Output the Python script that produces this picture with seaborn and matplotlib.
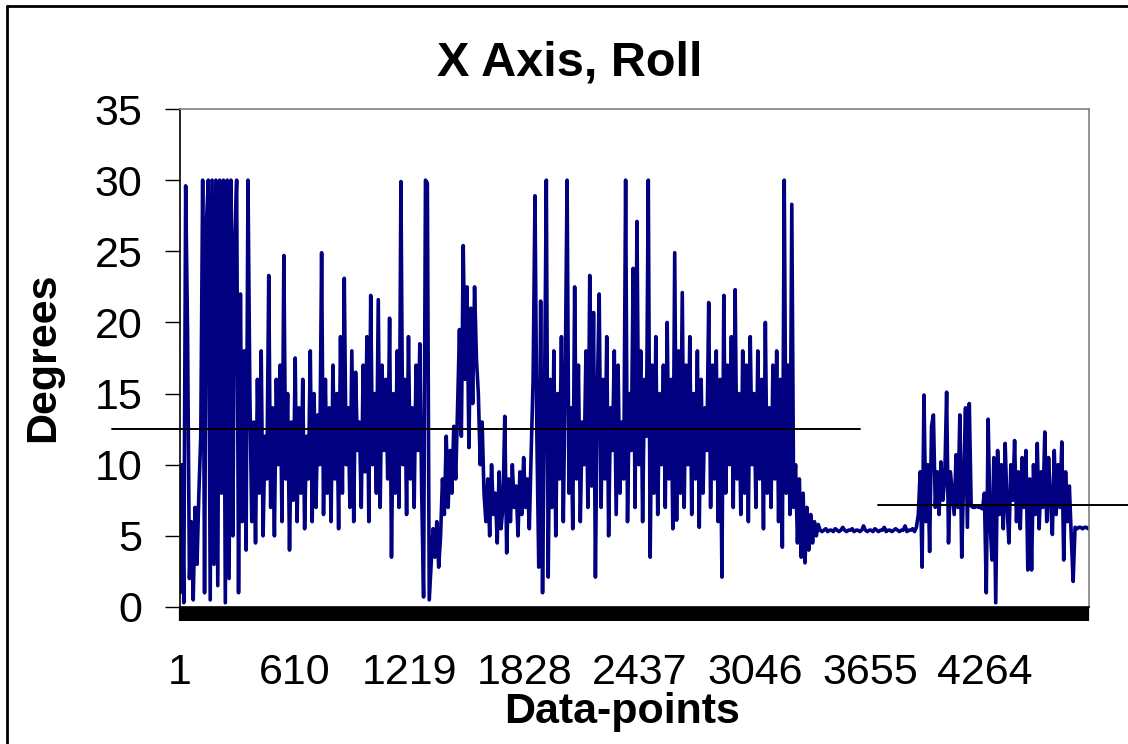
import numpy as np, pandas as pd
import seaborn as sns
import matplotlib.pyplot as plt
from matplotlib.lines import Line2D

sns.set_style("white")
plt.rcParams['font.family'] = ['Liberation Sans', 'DejaVu Sans']
plt.rcParams['text.color'] = 'black'

# roll readings, one value every 10 data-points
roll_start = [1, 10, 0.3, 29.6, 19.3, 2, 6, 0.5, 7, 3, 8]
roll_burst = [12, 30, 1, 27, 30, 0.5, 30, 3, 30, 1.5, 30, 8, 30, 0.3, 30, 2,
              30, 5, 26, 30, 1, 22, 6, 18, 4, 30]
roll_run1 = [15, 6, 13, 4.5, 16, 8, 18, 5, 12, 9, 23.3,
             7, 14, 5, 16, 10, 17, 6, 24.7, 9, 15, 4, 13, 7.5, 17.5, 6, 14,
             8, 16, 5.5, 12, 9, 18, 6, 15, 7, 13.5, 10, 24.9, 6.5, 16, 8, 14,
             6, 17, 9, 15, 5.5, 19, 8, 23.1, 10, 14, 7, 18, 6, 16.5, 11, 13,
             7, 17, 9.5, 19, 6, 21.9, 10, 15, 8, 21.6, 7, 17, 11, 16, 9, 20.3,
             3.5, 15, 8, 18, 7, 29.9, 10, 16, 6.5, 19, 9, 14, 7, 17, 11, 18.5, 8]
roll_dip = [0.7, 30, 29.8, 0.5, 3, 5.5, 3.5, 6, 2.8, 5,
            9, 6.5, 12, 7, 11, 8, 12.7, 9]
roll_hump = [14, 19.5, 12, 25.4, 16, 22.5, 11.2, 21, 14.3, 22.5, 17.4,
             15, 10, 13, 8]
roll_low = [6, 9, 5, 10, 6.5, 8, 4.5, 9.5, 5.5, 7, 13.4, 3.8, 9, 6, 10, 7,
            8.5, 5, 9.5, 6.5, 10.5, 7, 9, 5.5, 11, 16, 28.9, 12]
roll_run2 = [2.8, 21.5, 1.0, 14, 30, 2.1, 16, 7, 18, 5, 15, 9, 19,
             6, 16, 30, 8, 14, 5.5, 22.5, 9, 17, 6, 13, 10, 18, 7, 23.3, 8.5,
             20.7, 2.1, 15, 22.0, 7, 16, 9, 19, 5, 14, 11, 18, 6.5, 17, 8, 13,
             9, 30, 6, 15, 11, 23.8, 7, 27.1, 10, 18, 6, 16, 12, 30, 3.5, 17,
             8, 19, 6.5, 15, 10, 17, 7, 20, 9, 16, 5.5, 24.9, 6.1, 18, 8, 22.1,
             7, 17, 10, 19, 6.5, 15, 9, 18, 5.6, 16, 8, 14, 11, 21.4, 7, 17,
             9, 18, 6, 16, 2.1, 21.9, 8, 17, 10, 19, 7, 22.3, 9, 15, 6.5, 18,
             8, 17, 6, 19, 10, 15, 7, 18, 9, 16, 5.5, 20, 8, 14, 7, 17,
             9, 18, 6, 16, 4.2, 30, 8, 17, 6.5, 28.3, 7]
roll_decay = [10, 4.5, 9, 3.5, 8, 3.1, 7, 4, 6.5, 4.5, 6, 5, 5.8]
roll_rest = [5.4, 5.3, 5.4, 5.5, 5.3, 5.4, 5.4, 5.3, 5.5, 5.4, 5.3, 5.4, 5.6,
             5.4, 5.3, 5.4, 5.4, 5.5, 5.3, 5.4, 5.4, 5.3, 5.4, 5.7, 5.4, 5.3,
             5.4, 5.4, 5.3, 5.5, 5.4, 5.3, 5.4, 5.4, 5.6, 5.3, 5.4, 5.4, 5.3,
             5.4, 5.5, 5.4, 5.3, 5.4, 5.4, 5.7, 5.3, 5.4, 5.4, 5.5, 5.3, 5.6]
roll_burst2 = [6.5, 9.5, 2.8, 14.9, 6, 10, 3.9, 12.7, 13.5, 7, 9.5, 6.5, 10.2,
               7.5, 9, 15.1, 4.5, 9.5, 8, 6.5, 10.7, 7, 13.5, 3.5, 9, 14, 5.6,
               14.3]
roll_pause = [7.1, 7.0, 7.0, 7.1, 7.0, 7.0, 6.9]
roll_burst3 = [8, 1.0, 13.2, 6, 3.3, 10.5, 0.3, 11, 6.5, 10, 5.5, 11.5, 7,
               4.5, 10, 7.5, 11.7, 6, 9.5, 5.5, 10.5, 7, 11, 2.6, 9, 2.6, 10,
               6.5, 11.5, 5.5, 9.5, 7, 12.3, 6, 10.5, 7.5, 5.1, 11, 6.5, 10, 7,
               11.6, 3.3, 9.5, 6, 8.5, 5, 1.8]
roll_end = [5.6, 5.5, 5.6, 5.6, 5.5, 5.6, 5.6, 5.5]

roll = (roll_start + roll_burst + roll_run1 + roll_dip + roll_hump + roll_low
        + roll_run2 + roll_decay + roll_rest + roll_burst2 + roll_pause
        + roll_burst3 + roll_end)
points = np.arange(len(roll)) * 10 + 1
df = pd.DataFrame({"point": points, "roll": roll})

# hand drawn average lines
avg_levels = [12.5, 7.15]
avg_spans = [(-359, 3602), (3697, 5021)]

tick_labels = [1, 610, 1219, 1828, 2437, 3046, 3655, 4264]

fig = plt.figure(figsize=(11.28, 7.44), dpi=100)
ax = fig.add_axes([180/1128, 1-607/744, 909/1128, 498/744])

sns.lineplot(data=df, x="point", y="roll", ax=ax, color="#000080", lw=2.6)

for lev, (a, b) in zip(avg_levels, avg_spans):
    ax.plot([a, b], [lev, lev], color="black", lw=1.4, clip_on=False, zorder=5)

ax.set_xlim(1, 4815)
ax.set_ylim(0, 35)
ax.set_yticks(range(0, 36, 5))
ax.set_xticks(tick_labels)
ax.set_xticks(np.arange(1, 4815, 10), minor=True)
ax.tick_params(axis="x", which="both", direction="out", length=10, width=1.6,
               color="black", labelcolor="black", labelsize=31, pad=23,
               bottom=True)
ax.tick_params(axis="y", direction="out", length=11, width=1, color="black",
               labelcolor="black", labelsize=31, pad=16, left=True)

for s in ["left", "bottom"]:
    ax.spines[s].set_color("black")
    ax.spines[s].set_linewidth(1.2)
for s in ["top", "right"]:
    ax.spines[s].set_color("#808080")
    ax.spines[s].set_linewidth(1.2)

ax.set_xlabel("")
ax.set_ylabel("")
fig.text(570/1128, 1-63/744, "X Axis, Roll", fontsize=35, fontweight="bold",
         ha="center", va="center")
fig.text(622/1128, 1-712/744, "Data-points", fontsize=31, fontweight="bold",
         ha="center", va="center")
fig.text(43/1128, 1-357/744, "Degrees", fontsize=31, fontweight="bold",
         ha="center", va="center", rotation=90)

# outer chart frame
fig.add_artist(Line2D([7/1128, 7/1128], [0, 1-6/744], transform=fig.transFigure,
                      color="black", lw=2))
fig.add_artist(Line2D([7/1128, 1], [1-6/744, 1-6/744], transform=fig.transFigure,
                      color="black", lw=2))

fig.savefig("out.png", dpi=100)
